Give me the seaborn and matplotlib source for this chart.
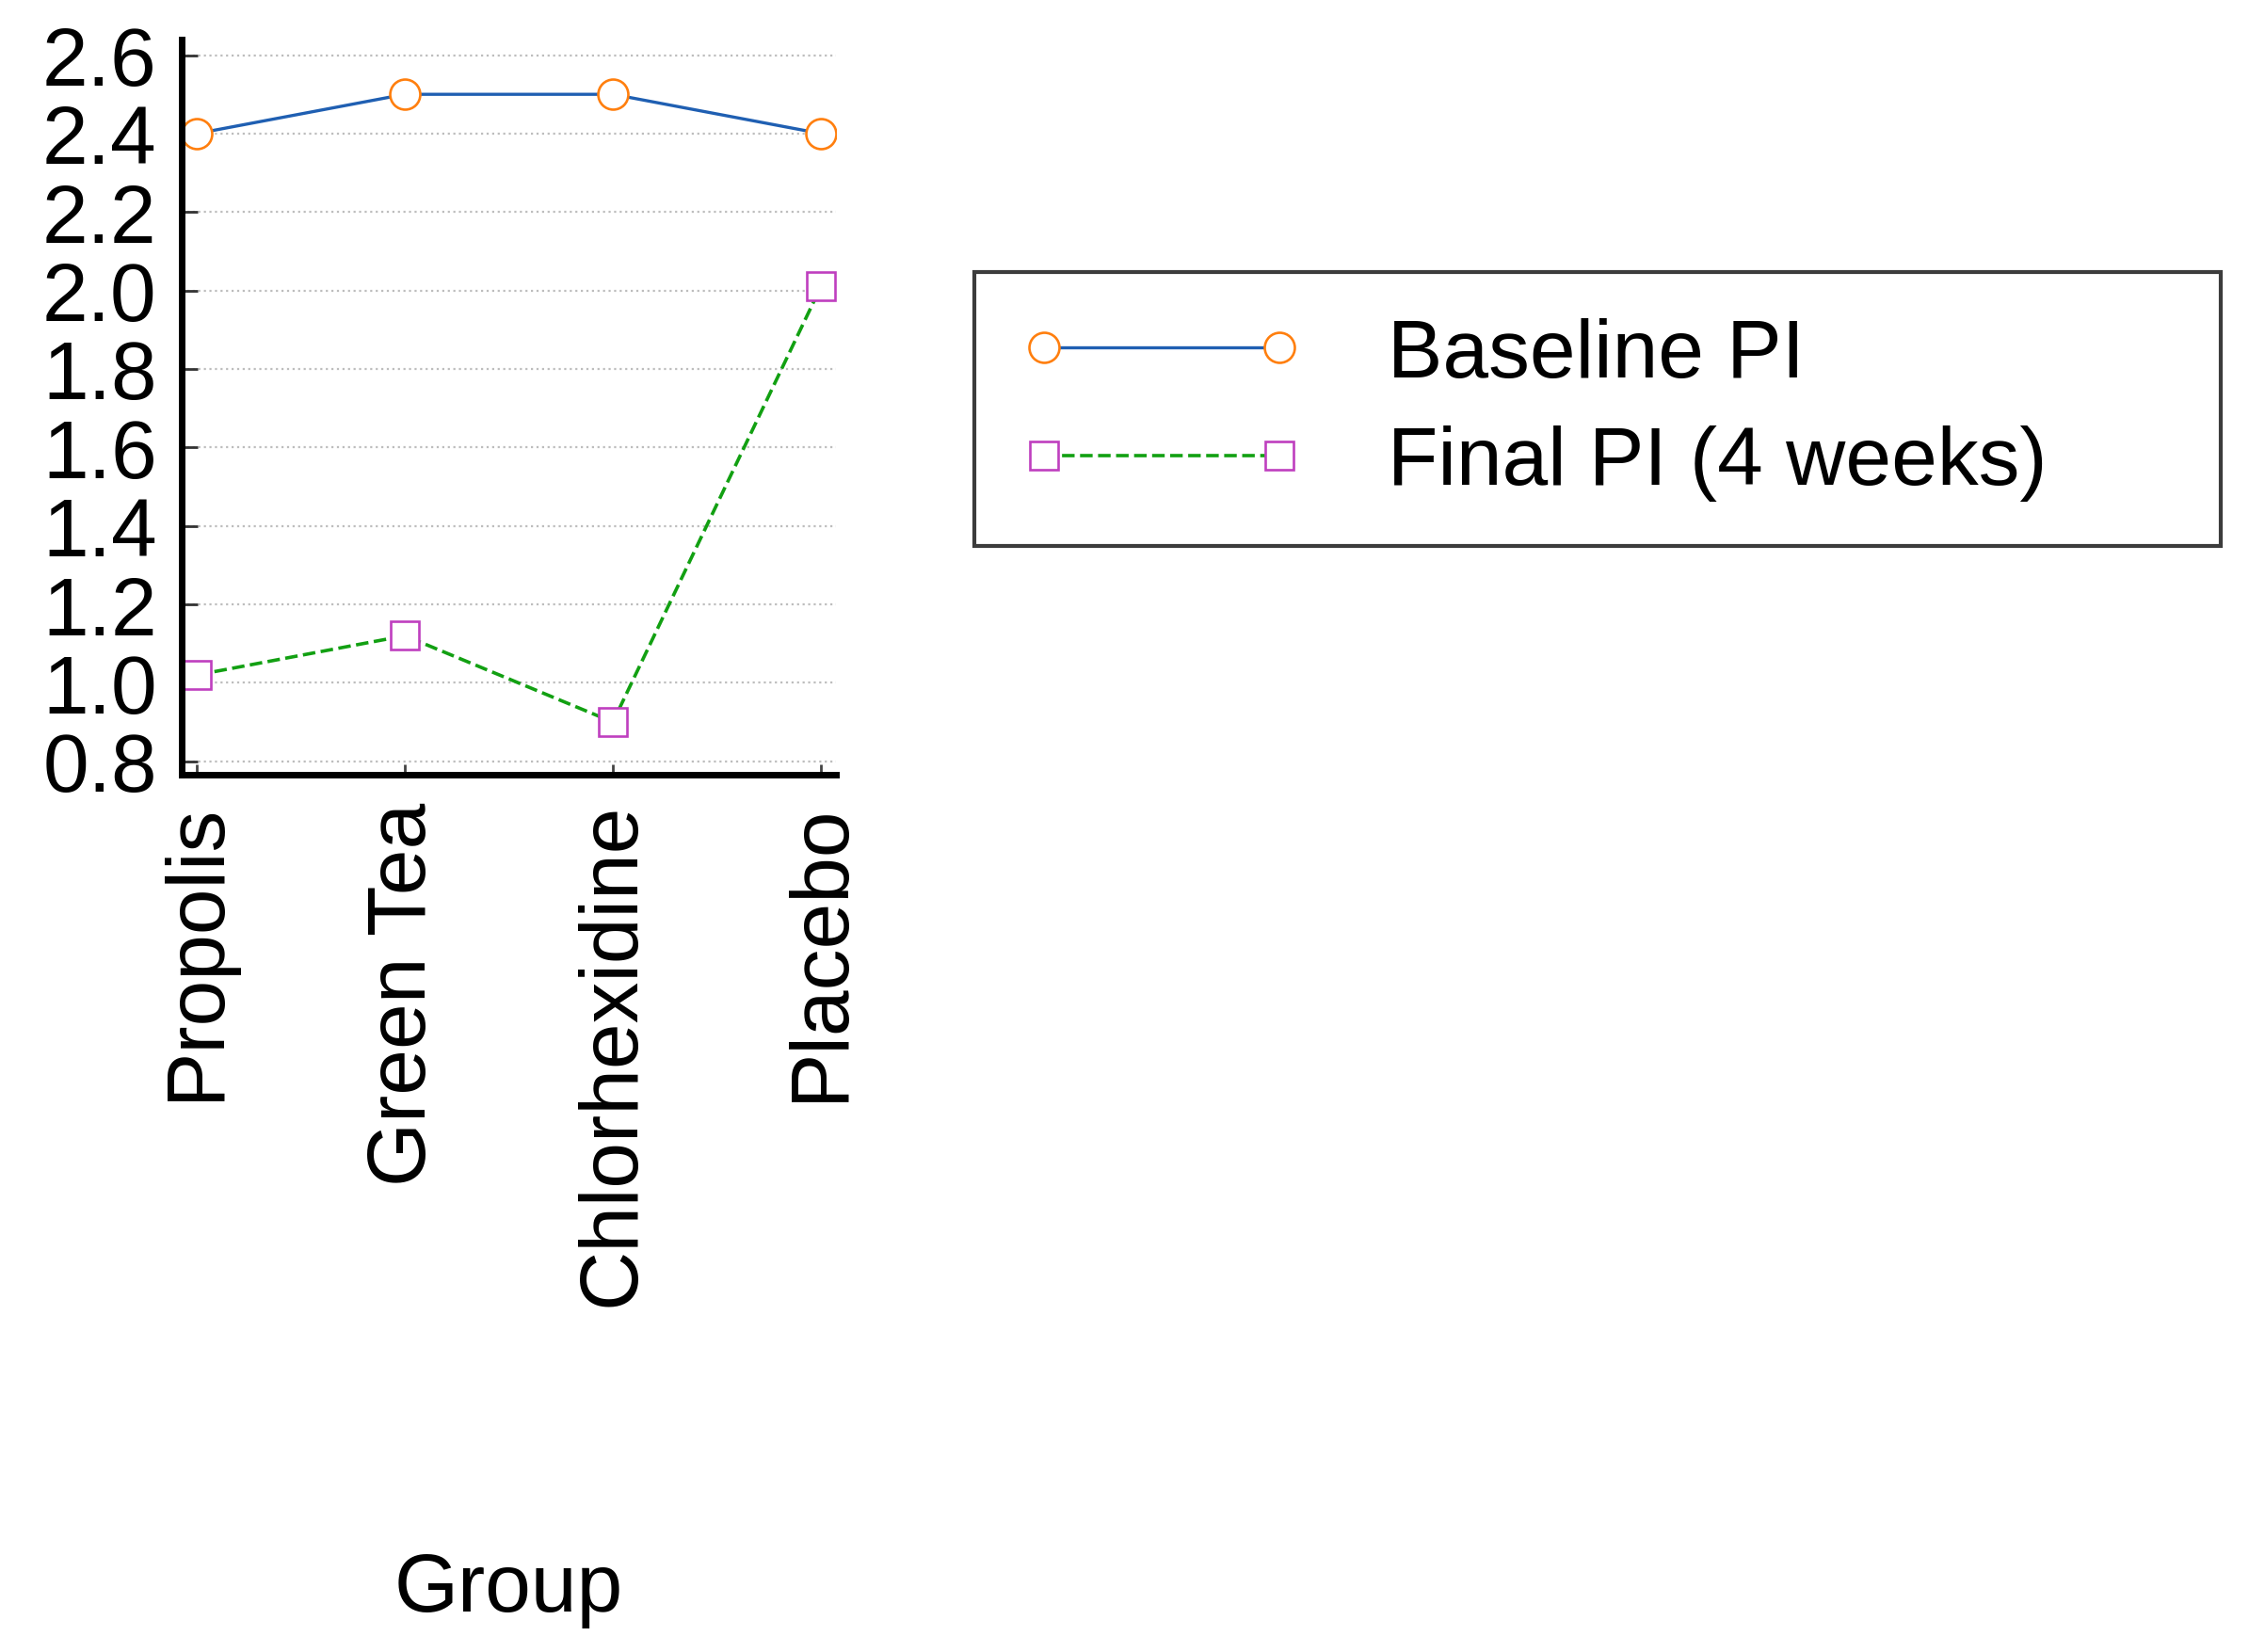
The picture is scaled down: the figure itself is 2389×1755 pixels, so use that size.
import matplotlib
matplotlib.use("Agg")
import matplotlib.pyplot as plt
from matplotlib.ticker import MultipleLocator
import seaborn as sns
import pandas as pd

groups = ["Propolis", "Green Tea", "Chlorhexidine", "Placebo"]
baseline_pi = [2.40, 2.50, 2.50, 2.40]
final_pi = [1.02, 1.12, 0.90, 2.01]
yticks = [0.8, 1.0, 1.2, 1.4, 1.6, 1.8, 2.0, 2.2, 2.4, 2.6]
series_names = ["Baseline PI", "Final PI (4 weeks)"]
x_label = "Group"

sns.set_style("white")
plt.rcParams["font.family"] = ["Liberation Sans", "DejaVu Sans"]
plt.rcParams["text.color"] = "black"
plt.rcParams["axes.labelcolor"] = "black"
FS = 63

df_base = pd.DataFrame({"Group": groups, "PI": baseline_pi})
df_final = pd.DataFrame({"Group": groups, "PI": final_pi})

fig = plt.figure(figsize=(23.89, 17.56), dpi=100)
ax = fig.add_axes([0.0808, 0.5308, 0.2909, 0.4448])

sns.lineplot(data=df_base, x="Group", y="PI", ax=ax, sort=False,
             color="#1f5fb2", linewidth=2.4, linestyle="-",
             marker="o", markersize=23, markerfacecolor="white",
             markeredgecolor="#ff7f0e", markeredgewidth=1.9,
             label=series_names[0])
sns.lineplot(data=df_final, x="Group", y="PI", ax=ax, sort=False,
             color="#12a012", linewidth=2.6, linestyle="--",
             marker="s", markersize=22, markerfacecolor="white",
             markeredgecolor="#bf3fbf", markeredgewidth=1.9,
             label=series_names[1])

ax.set_xlim(-0.072, 3.072)
ax.set_ylim(0.766, 2.64)
ax.set_xticks(range(len(groups)))
ax.set_xticklabels(groups, rotation=90, fontsize=FS)
ax.set_yticks(yticks)
ax.set_yticklabels([f"{v:.1f}" for v in yticks], fontsize=FS)
ax.yaxis.set_minor_locator(MultipleLocator(0.1))

ax.tick_params(axis="y", which="major", direction="in", length=12, width=2,
               color="#333333", pad=19, labelcolor="black")
ax.tick_params(axis="y", which="minor", direction="in", length=6.5, width=1.6,
               color="#333333")
ax.tick_params(axis="x", which="major", direction="in", length=8, width=2,
               color="#444444", pad=21, labelcolor="black")
ax.tick_params(left=True, bottom=True)

ax.yaxis.grid(True, which="major", linestyle=":", color="#bdbdbd", linewidth=1.6)
ax.xaxis.grid(False)
ax.set_axisbelow(True)

for s in ["top", "right"]:
    ax.spines[s].set_visible(False)
for s in ["left", "bottom"]:
    ax.spines[s].set_color("black")
    ax.spines[s].set_linewidth(5)

ax.set_ylabel("")
ax.set_xlabel(x_label, fontsize=FS, color="black")
ax.xaxis.label.set_va("baseline")
ax.xaxis.set_label_coords(0.5, -1.137)

leg = ax.legend(loc="upper left", bbox_to_anchor=(0.4332, 0.6703, 0.5542, 0.1646),
                bbox_transform=fig.transFigure, mode="expand", borderaxespad=0,
                fontsize=FS, numpoints=2, handlelength=3.45, handletextpad=1.02,
                borderpad=0.55, labelspacing=0.38, fancybox=False, framealpha=1)
leg.get_frame().set_edgecolor("#3c3c3c")
leg.get_frame().set_linewidth(3)
for t in leg.get_texts():
    t.set_color("black")

fig.savefig("out.png", dpi=100, facecolor="white")
